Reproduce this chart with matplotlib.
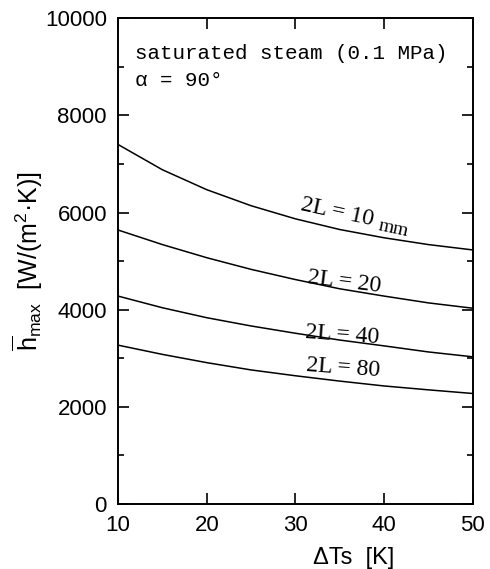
import matplotlib
matplotlib.use("Agg")
import matplotlib.pyplot as plt
from matplotlib.ticker import MultipleLocator

# data (delta Ts in K, h_max in W/(m2 K))
dts = [10, 15, 20, 25, 30, 35, 40, 45, 50]
h_10 = [7400, 6880, 6470, 6140, 5870, 5650, 5480, 5340, 5230]
h_20 = [5640, 5340, 5070, 4830, 4620, 4430, 4280, 4140, 4030]
h_40 = [4280, 4040, 3835, 3665, 3515, 3375, 3255, 3130, 3030]
h_80 = [3270, 3080, 2910, 2760, 2640, 2530, 2430, 2350, 2275]
curve_labels = ["2L = 10", "2L = 20", "2L = 40", "2L = 80"]

plt.rcParams['mathtext.fontset'] = 'custom'
plt.rcParams['mathtext.rm'] = 'Liberation Sans'
plt.rcParams['mathtext.it'] = 'Liberation Sans:italic'

fig = plt.figure(figsize=(4.9, 5.69), dpi=100)
ax = fig.add_axes([0.241, 0.1142, 0.724, 0.8538])

for h in [h_10, h_20, h_40, h_80]:
    ax.plot(dts, h, color='black', linewidth=1.1)

ax.set_xlim(10, 50)
ax.set_ylim(0, 10000)
ax.xaxis.set_major_locator(MultipleLocator(10))
ax.yaxis.set_major_locator(MultipleLocator(2000))
ax.yaxis.set_minor_locator(MultipleLocator(1000))
ax.tick_params(which='both', direction='in', top=True, right=True, width=1.2)
ax.tick_params(which='major', length=8, labelsize=16)
ax.tick_params(axis='x', which='major', pad=8)
ax.tick_params(axis='y', which='major', pad=8)
ax.tick_params(which='minor', length=4.5)
for lab in ax.get_xticklabels() + ax.get_yticklabels():
    lab.set_fontfamily('Liberation Sans')
for s in ax.spines.values():
    s.set_linewidth(1.4)

# curve labels (serif, slightly rotated along the curves)
lab_font = dict(family='Liberation Serif', fontsize=17, ha='center', va='center')
ax.text(34.7, 6000, curve_labels[0], rotation=-12, **lab_font)
ax.text(41.1, 5660, "mm", rotation=-12, family='Liberation Serif',
        fontsize=14, ha='center', va='center')
ax.text(35.5, 4560, curve_labels[1], rotation=-7, **lab_font)
ax.text(35.3, 3470, curve_labels[2], rotation=-4, **lab_font)
ax.text(35.4, 2800, curve_labels[3], rotation=-4, **lab_font)

# condition note
ax.text(0.048, 0.928, "saturated steam (0.1 MPa)", transform=ax.transAxes,
        family='Liberation Mono', fontsize=15, ha='left', va='center')
ax.text(0.048, 0.872, "α = 90°", transform=ax.transAxes,
        family='Liberation Mono', fontsize=15, ha='left', va='center')

ax.set_xlabel("ΔTs  [K]", fontfamily='Liberation Sans', fontsize=17)
ax.xaxis.set_label_coords(0.663, -0.088)
ax.set_ylabel(r"$\overline{\mathregular{h}}_{\mathregular{max}}$  [W/(m$^2$·K)]",
              fontfamily='Liberation Sans', fontsize=18)
ax.yaxis.set_label_coords(-0.205, 0.5)

fig.savefig("out.png", dpi=100)
